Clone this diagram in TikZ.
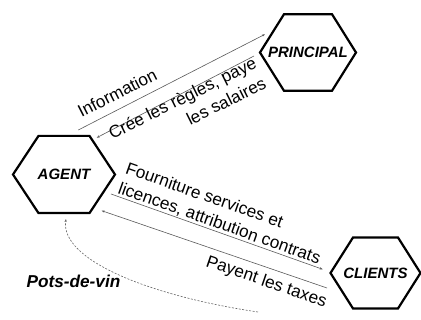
\documentclass[tikz,border=0pt]{standalone}
\usepackage{fontspec}
\setmainfont{Liberation Sans}
\usetikzlibrary{arrows.meta,calc}
\newcommand\hexat[3]{\draw[hexline,shift={(#1.center)}] (-#2,0) -- ({-#2/2},-#3) -- ({#2/2},-#3) -- (#2,0) -- ({#2/2},#3) -- ({-#2/2},#3) -- cycle;}
\begin{document}
\begin{tikzpicture}[x=1pt,y=-1pt,
  hexline/.style={line width=2.2pt, line join=miter},
  hexlabel/.style={font=\fontsize{15}{18}\selectfont\bfseries\itshape, inner sep=0pt},
  txt/.style={font=\fontsize{17.2}{21}\selectfont, inner sep=0pt},
  bribelabel/.style={font=\fontsize{17.2}{21}\selectfont\bfseries\itshape, inner sep=0pt},
  flow/.style={draw=black!65, line width=0.6pt, -{Stealth[length=3pt,width=2.2pt]}},
  bribe/.style={draw=black!60, line width=0.6pt, dash pattern=on 2pt off 1.5pt, -{Stealth[length=3pt,width=2.2pt]}},
]
\useasboundingbox (0,0) rectangle (421,320);

% hexagon nodes
\node[hexlabel] (principal) at (308,52.5) {PRINCIPAL};
\node[hexlabel] (agent) at (64,174.5) {AGENT};
\node[hexlabel] (clients) at (375.5,273) {CLIENTS};
\hexat{principal}{48}{38.3}
\hexat{agent}{51}{38.6}
\hexat{clients}{45}{35.5}

% connector end points
\coordinate (infoA) at (78.3,130);
\coordinate (infoP) at (265,34.3);
\coordinate (creeP) at (254,56);
\coordinate (creeA) at (96.7,137.7);
\coordinate (fournA) at (111,194);
\coordinate (fournC) at (322.7,269.3);
\coordinate (payC) at (327,288);
\coordinate (payA) at (101.7,210.7);
\coordinate (bribeS) at (258,312);
\coordinate (bribeA) at (66,219);

\draw[flow] (infoA) -- (infoP);
\draw[flow] (creeP) -- (creeA);
\draw[flow] (fournA) -- (fournC);
\draw[flow] (payC) -- (payA);
\draw[bribe] (bribeS) .. controls (150,296) and (60,260) .. (bribeA);

% labels
\node[txt, rotate=27.1, anchor=base west] (tinfo) at (81.5,118) {Information};
\node[txt, rotate=26.4, anchor=base east] (tcree1) at (258,67.2) {Crée les règles, paye};
\node[txt, rotate=26.4, anchor=base east] (tcree2) at (267.5,87.5) {les salaires};
\node[txt, rotate=-19.5, anchor=base west] (tfourn1) at (124.5,173) {Fourniture services et};
\node[txt, rotate=-19.5, anchor=base west] (tfourn2) at (117,193) {licences, attribution contrats};
\node[txt, rotate=-19, anchor=base west] (tpay) at (205,266) {Payent les taxes};
\node[bribelabel, anchor=base] (tbribe) at (73.5,287.5) {Pots-de-vin};
\end{tikzpicture}
\end{document}
